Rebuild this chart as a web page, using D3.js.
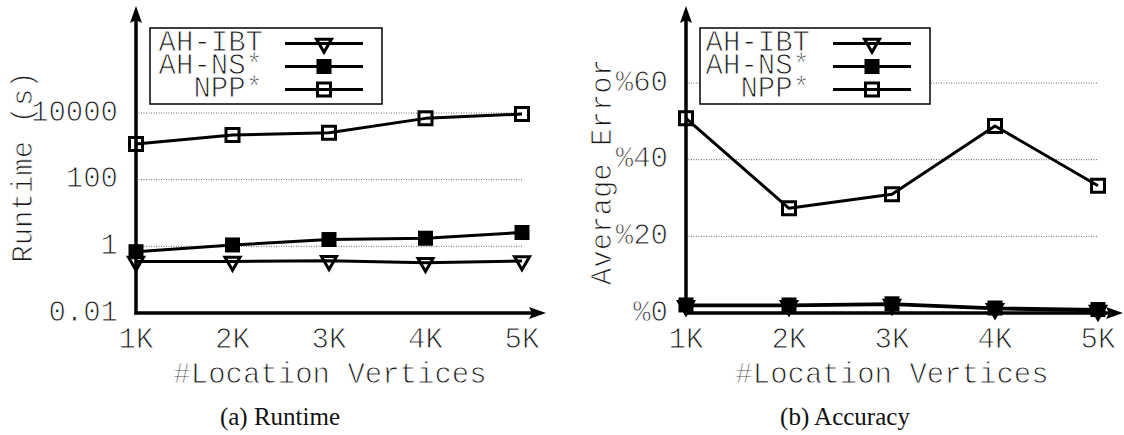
<!DOCTYPE html>
<html>
<head>
<meta charset="utf-8">
<script src="https://cdn.jsdelivr.net/npm/d3@7/dist/d3.min.js"></script>
<style>
  html, body { margin: 0; padding: 0; background: #fff; }
  svg { display: block; }
  .mono { font-family: "Liberation Mono", "Courier New", monospace; fill: #1a1a1a; stroke: #fff; stroke-width: 0.9px; }
  .caption { font-family: "Liberation Serif", "Times New Roman", serif; fill: #111; }
</style>
</head>
<body>
<svg id="fig" width="1124" height="435"></svg>
<script>
// x categories: number of location vertices
const categories = ["1K", "2K", "3K", "4K", "5K"];
const seriesNames = ["AH-IBT", "AH-NS*", "NPP*"];

// (a) runtime in seconds
const runtimeIBT = [0.35, 0.35, 0.37, 0.32, 0.36];
const runtimeNS  = [0.69, 1.1, 1.6, 1.75, 2.6];
const runtimeNPP = [1170, 2190, 2570, 6900, 9300];
const runtimeTicks = [0.01, 1, 100, 10000];
const runtimeTickLabels = ["0.01", "1", "100", "10000"];

// (b) average error in percent
const errorIBT = [1.9, 1.9, 2.2, 1.1, 0.6];
const errorNS  = [2.1, 2.1, 2.4, 1.3, 0.9];
const errorNPP = [50.8, 27.3, 31.0, 48.8, 33.2];
const errorTicks = [0, 20, 40, 60];
const errorTickLabels = ["%0", "%20", "%40", "%60"];

const svg = d3.select("#fig");
const FS = 29;

function trianglePath(cx, cy) {
  // downward triangle placed by its centroid
  const w = 7.5, h = 13;
  return `M${cx - w},${cy - h / 3}L${cx + w},${cy - h / 3}L${cx},${cy + 2 * h / 3}Z`;
}
function squarePath(cx, cy, s) {
  return `M${cx - s / 2},${cy - s / 2}h${s}v${s}h${-s}Z`;
}
function drawMarker(g, kind, cx, cy) {
  if (kind === 0) {
    g.append("path").attr("d", trianglePath(cx, cy))
      .attr("fill", "none").attr("stroke", "#000").attr("stroke-width", 3)
      .attr("stroke-linejoin", "miter");
  } else if (kind === 1) {
    g.append("path").attr("d", squarePath(cx, cy, 15)).attr("fill", "#000");
  } else {
    g.append("path").attr("d", squarePath(cx, cy, 13))
      .attr("fill", "none").attr("stroke", "#000").attr("stroke-width", 3);
  }
}

function panel(cfg) {
  const g = svg.append("g");
  const x = d3.scalePoint(categories, [cfg.x0, cfg.x1]);
  const y = cfg.y;
  const yBottom = y.range()[0];

  // dotted grid lines
  g.selectAll("line.grid").data(cfg.ticks.filter(t => y(t) < yBottom - 1))
    .join("line").attr("class", "grid")
    .attr("x1", cfg.x0).attr("x2", cfg.x1)
    .attr("y1", d => y(d)).attr("y2", d => y(d))
    .attr("stroke", "#666").attr("stroke-width", 1)
    .attr("stroke-dasharray", "1,1.5");

  // axes with arrowheads
  g.append("line").attr("x1", cfg.x0).attr("x2", cfg.x0)
    .attr("y1", yBottom + 1.5).attr("y2", cfg.yTop + 12)
    .attr("stroke", "#000").attr("stroke-width", 3.5);
  g.append("path")
    .attr("d", `M${cfg.x0},${cfg.yTop}L${cfg.x0 - 6},${cfg.yTop + 17}L${cfg.x0},${cfg.yTop + 14}L${cfg.x0 + 6},${cfg.yTop + 17}Z`)
    .attr("fill", "#000");
  g.append("line").attr("x1", cfg.x0 - 1.5).attr("x2", cfg.xTip - 12)
    .attr("y1", yBottom).attr("y2", yBottom)
    .attr("stroke", "#000").attr("stroke-width", 3.5);
  g.append("path")
    .attr("d", `M${cfg.xTip},${yBottom}L${cfg.xTip - 17},${yBottom - 6}L${cfg.xTip - 14},${yBottom}L${cfg.xTip - 17},${yBottom + 6}Z`)
    .attr("fill", "#000");

  // y tick labels
  g.selectAll("text.ytick").data(cfg.ticks)
    .join("text").attr("class", "mono ytick")
    .attr("x", cfg.x0 - 18).attr("y", d => y(d))
    .attr("text-anchor", "end").attr("dominant-baseline", "central")
    .attr("font-size", FS)
    .text((d, i) => cfg.tickLabels[i]);

  // x tick labels
  g.selectAll("text.xtick").data(categories)
    .join("text").attr("class", "mono xtick")
    .attr("x", d => x(d)).attr("y", 340)
    .attr("text-anchor", "middle").attr("dominant-baseline", "central")
    .attr("font-size", FS)
    .text(d => d);

  // axis titles
  g.append("text").attr("class", "mono")
    .attr("x", cfg.xTitleX).attr("y", 375)
    .attr("text-anchor", "middle").attr("dominant-baseline", "central")
    .attr("font-size", FS).text("#Location Vertices");
  g.append("text").attr("class", "mono")
    .attr("transform", `translate(${cfg.yTitleX},${cfg.yTitleY}) rotate(-90)`)
    .attr("text-anchor", "middle")
    .attr("font-size", FS).text(cfg.yTitle);

  // series
  const line = d3.line().x((d, i) => x(categories[i])).y(d => y(d));
  cfg.series.forEach((vals, k) => {
    const sg = g.append("g");
    sg.append("path").attr("d", line(vals))
      .attr("fill", "none").attr("stroke", "#000").attr("stroke-width", 3)
      .attr("stroke-linejoin", "round");
    vals.forEach((v, i) => drawMarker(sg, k, x(categories[i]), y(v)));
  });

  // legend
  const L = cfg.legend;
  g.append("rect").attr("x", L.x).attr("y", L.y).attr("width", L.w).attr("height", L.h)
    .attr("fill", "#fff").attr("stroke", "#000").attr("stroke-width", 1.5);
  seriesNames.forEach((name, k) => {
    const ry = L.y + 15.5 + k * 23;
    g.append("text").attr("class", "mono")
      .attr("x", L.textX).attr("y", ry)
      .attr("text-anchor", "end").attr("dominant-baseline", "central")
      .attr("font-size", FS).text(name);
    g.append("line").attr("x1", L.lineX0).attr("x2", L.lineX1)
      .attr("y1", ry).attr("y2", ry)
      .attr("stroke", "#000").attr("stroke-width", 3);
    drawMarker(g, k, (L.lineX0 + L.lineX1) / 2, ry);
  });

  // caption
  g.append("text").attr("class", "caption")
    .attr("x", cfg.captionX).attr("y", 425)
    .attr("text-anchor", "middle").attr("font-size", 25)
    .text(cfg.caption);
}

panel({
  x0: 136, x1: 522, xTip: 546, yTop: 6,
  y: d3.scaleLog().domain([0.01, 10000]).range([313, 113]),
  ticks: runtimeTicks, tickLabels: runtimeTickLabels,
  series: [runtimeIBT, runtimeNS, runtimeNPP],
  yTitle: "Runtime (s)", yTitleX: 32, yTitleY: 167,
  xTitleX: 330,
  legend: { x: 150, y: 28, w: 232, h: 76, textX: 263, lineX0: 285, lineX1: 363 },
  caption: "(a) Runtime", captionX: 280
});

panel({
  x0: 686, x1: 1098, xTip: 1123, yTop: 6,
  y: d3.scaleLinear().domain([0, 60]).range([313, 83]),
  ticks: errorTicks, tickLabels: errorTickLabels,
  series: [errorIBT, errorNS, errorNPP],
  yTitle: "Average Error", yTitleX: 611, yTitleY: 172,
  xTitleX: 892,
  legend: { x: 700, y: 28, w: 230, h: 76, textX: 810, lineX0: 833, lineX1: 911 },
  caption: "(b) Accuracy", captionX: 845
});
</script>
</body>
</html>
